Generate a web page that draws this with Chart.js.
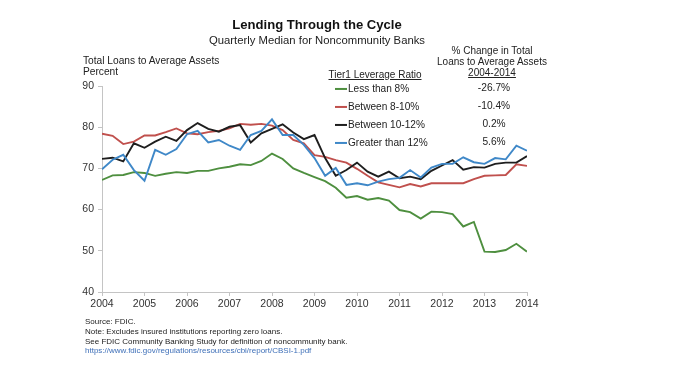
<!DOCTYPE html>
<html>
<head>
<meta charset="utf-8">
<script src="https://cdn.jsdelivr.net/npm/chart.js@4/dist/chart.umd.min.js"></script>
<style>
  html, body { margin:0; padding:0; background:#fff; }
  #wrap { position:relative; width:687px; height:378px; overflow:hidden; font-family:"Liberation Sans", Arial, sans-serif; color:#222; }
  #c { position:absolute; left:0; top:0; }
  .t { position:absolute; white-space:nowrap; line-height:1; transform:translateY(-50%); }
  .ctr { transform:translate(-50%,-50%); }
  .u { text-decoration:underline; }
  .leg { position:absolute; display:flex; align-items:center; line-height:1; transform:translateY(-50%); font-size:10.1px; color:#222; }
  .leg span.sw { display:inline-block; width:12px; height:2px; margin-right:1px; }
</style>
</head>
<body>
<div id="wrap">
  <canvas id="c" width="687" height="378"></canvas>
</div>
<script>
// ---- data ----
const quarters = ["2004Q1","2004Q2","2004Q3","2004Q4","2005Q1","2005Q2","2005Q3","2005Q4","2006Q1","2006Q2","2006Q3","2006Q4","2007Q1","2007Q2","2007Q3","2007Q4","2008Q1","2008Q2","2008Q3","2008Q4","2009Q1","2009Q2","2009Q3","2009Q4","2010Q1","2010Q2","2010Q3","2010Q4","2011Q1","2011Q2","2011Q3","2011Q4","2012Q1","2012Q2","2012Q3","2012Q4","2013Q1","2013Q2","2013Q3","2013Q4","2014Q1"];
const seriesNames = ["Less than 8%", "Between 8-10%", "Between 10-12%", "Greater than 12%"];
const pctChange = ["-26.7%", "-10.4%", "0.2%", "5.6%"];
const lessThan8 = [67.2,68.3,68.4,69.1,68.9,68.2,68.7,69.1,68.9,69.4,69.4,70.0,70.4,71.0,70.8,71.8,73.6,72.3,70.0,68.9,67.9,66.9,65.3,62.9,63.3,62.4,62.8,62.2,59.9,59.4,57.8,59.5,59.4,58.9,55.9,57.0,49.8,49.7,50.2,51.7,49.8];
const between8to10 = [78.4,77.9,75.9,76.5,78.0,78.0,78.8,79.7,78.5,78.3,78.8,79.1,79.7,80.8,80.6,80.8,80.4,79.3,76.9,76.1,73.2,72.8,72.0,71.4,69.9,68.2,66.6,66.0,65.4,66.2,65.6,66.4,66.4,66.4,66.4,67.4,68.2,68.3,68.4,71.0,70.6];
const between10to12 = [72.3,72.6,71.7,76.1,75.0,76.5,77.7,76.7,79.3,81.0,79.6,78.9,80.1,80.5,76.3,78.5,79.6,80.7,78.7,77.1,78.1,72.5,68.2,69.6,71.4,69.2,68.0,69.2,67.6,68.0,67.4,69.4,70.7,72.0,69.7,70.3,70.2,71.1,71.4,71.4,73.0];
const greaterThan12 = [69.8,72.1,73.3,69.6,67.0,74.5,73.3,74.7,78.3,79.1,76.3,76.9,75.5,74.5,78.1,79.1,81.9,78.1,78.1,75.7,72.5,68.2,70.1,66.0,66.4,65.9,66.8,67.4,67.7,69.6,67.8,70.2,71.1,71.1,72.7,71.5,71.1,72.5,72.2,75.5,74.3];
const yearTicks = [2004,2005,2006,2007,2008,2009,2010,2011,2012,2013,2014];
const yTicks = [40,50,60,70,80,90];

// ---- styles ----
const colors = ["#4e8f3f", "#c0504d", "#1e1e1e", "#3f88c8"];
const FONT = "'Liberation Sans', Arial, sans-serif";

const allSeries = [lessThan8, between8to10, between10to12, greaterThan12];
const xOf = q => parseInt(q.slice(0,4)) + (parseInt(q.slice(5)) - 1) / 4;

const datasets = allSeries.map((vals, k) => ({
  label: seriesNames[k],
  data: vals.map((v, i) => ({ x: xOf(quarters[i]), y: v })),
  borderColor: colors[k],
  backgroundColor: colors[k],
  borderWidth: 1.9,
  pointRadius: 0,
  tension: 0,
  fill: false
}));
datasets.forEach((d, k) => d.order = 4 - k);

new Chart(document.getElementById('c'), {
  type: 'line',
  data: { datasets },
  options: {
    responsive: false,
    animation: false,
    devicePixelRatio: 1,
    layout: { padding: { left: 70, right: 160, top: 86, bottom: 66 } },
    plugins: { legend: { display: false }, tooltip: { enabled: false }, title: { display: false } },
    scales: {
      x: {
        type: 'linear',
        min: yearTicks[0], max: yearTicks[yearTicks.length - 1],
        afterBuildTicks: s => { s.ticks = yearTicks.map(v => ({ value: v })); },
        afterFit: s => { s.height = 20; },
        border: { color: '#c4c4c4', width: 1 },
        grid: { drawOnChartArea: false, tickLength: 4, color: '#c4c4c4' },
        ticks: { color: '#333', font: { family: FONT, size: 10.5 }, padding: 2, maxRotation: 0, callback: v => String(v) }
      },
      y: {
        min: yTicks[0], max: yTicks[yTicks.length - 1],
        afterBuildTicks: s => { s.ticks = yTicks.map(v => ({ value: v })); },
        afterFit: s => { s.width = 32; },
        border: { color: '#c4c4c4', width: 1 },
        grid: { drawOnChartArea: false, tickLength: 4, color: '#c4c4c4' },
        ticks: { color: '#333', font: { family: FONT, size: 10.5 }, padding: 4 }
      }
    }
  }
});

// ---- text overlay ----
const wrap = document.getElementById('wrap');
function addText(txt, x, y, opts = {}) {
  const d = document.createElement('div');
  d.className = 't' + (opts.center ? ' ctr' : '') + (opts.u ? ' u' : '');
  d.textContent = txt;
  d.style.left = x + 'px';
  d.style.top = y + 'px';
  d.style.fontSize = (opts.size || 10.2) + 'px';
  if (opts.bold) d.style.fontWeight = 'bold';
  if (opts.color) d.style.color = opts.color;
  wrap.appendChild(d);
  return d;
}
addText("Lending Through the Cycle", 317, 25, { center: true, bold: true, size: 13.1, color: '#111' });
addText("Quarterly Median for Noncommunity Banks", 317, 41, { center: true, size: 11.3, color: '#222' });
addText("Total Loans to Average Assets", 83, 61, { size: 10.2 });
addText("Percent", 83, 72, { size: 10.2 });
addText("% Change in Total", 492, 51, { center: true, size: 10 });
addText("Loans to Average Assets", 492, 62, { center: true, size: 10 });
addText("2004-2014", 492, 73, { center: true, size: 10, u: true });
addText("Tier1 Leverage Ratio", 375, 75, { center: true, size: 10, u: true });

const legY = [89, 107, 125, 143];
seriesNames.forEach((name, k) => {
  const d = document.createElement('div');
  d.className = 'leg';
  d.style.left = '335px';
  d.style.top = legY[k] + 'px';
  const sw = document.createElement('span');
  sw.className = 'sw';
  sw.style.background = colors[k];
  d.appendChild(sw);
  d.appendChild(document.createTextNode(name));
  wrap.appendChild(d);
  addText(pctChange[k], 494, legY[k] - 1, { center: true, size: 10.2 });
});

addText("Source: FDIC.", 85, 322, { size: 8 });
addText("Note: Excludes insured institutions reporting zero loans.", 85, 332, { size: 8 });
addText("See FDIC Community Banking Study for definition of noncommunity bank.", 85, 342, { size: 8 });
addText("https://www.fdic.gov/regulations/resources/cbi/report/CBSI-1.pdf", 85, 351, { size: 8, color: '#3e6fb8' });
</script>
</body>
</html>
